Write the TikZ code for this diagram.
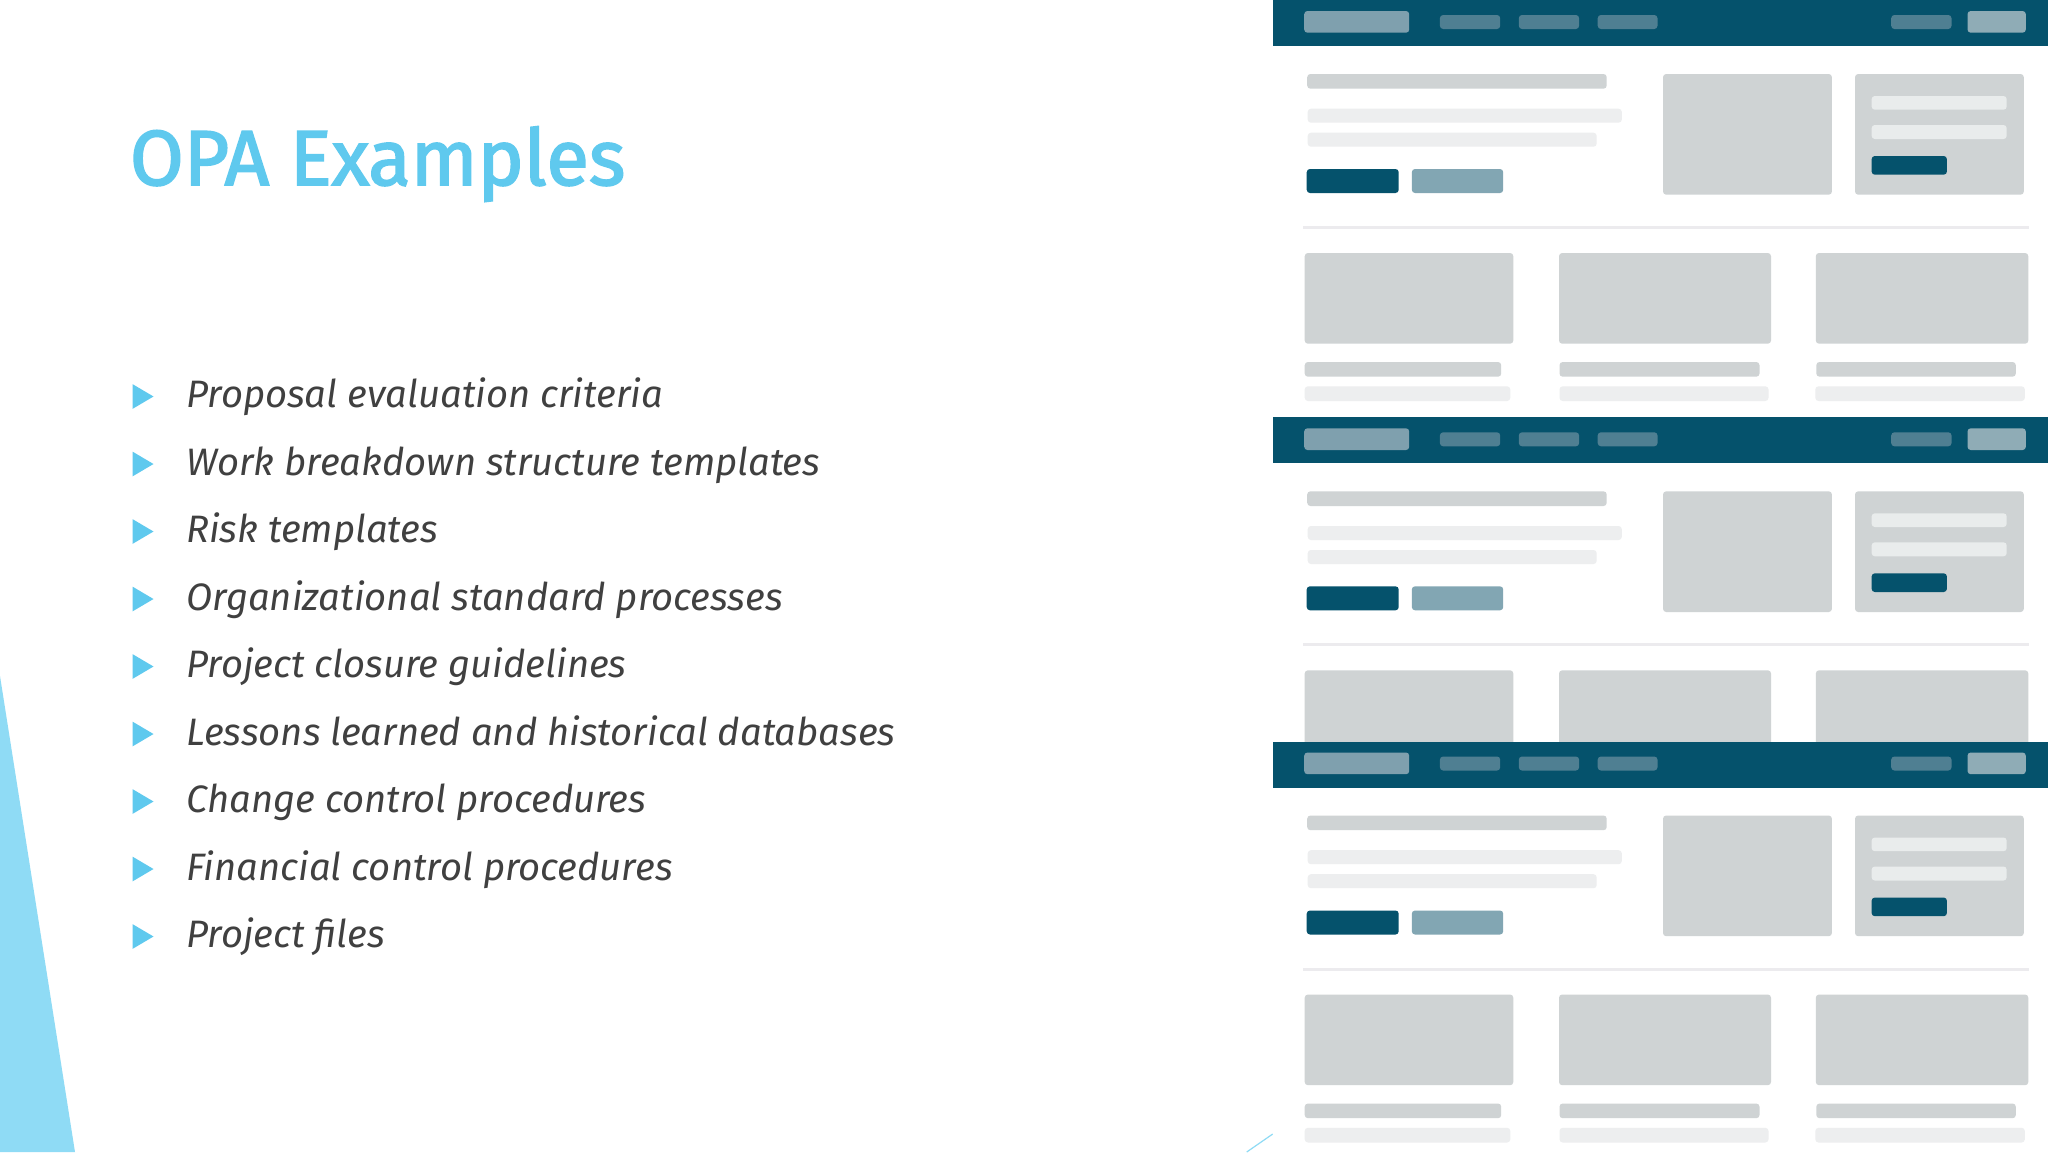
\documentclass[tikz,border=0pt]{standalone}
\usepackage{fontspec}
\setmainfont{Fira Sans}
\newfontfamily\titlefont[FakeBold=2.2]{Fira Sans}
\definecolor{skyblue}{HTML}{5FC9EE}
\definecolor{wedgeblue}{HTML}{8FDBF5}
\definecolor{bodytext}{HTML}{404040}
\definecolor{barteal}{HTML}{05526C}
\definecolor{logoteal}{HTML}{7FA0AE}
\definecolor{navteal}{HTML}{4F7F92}
\definecolor{signteal}{HTML}{8FACB6}
\definecolor{softteal}{HTML}{82A6B3}
\definecolor{boxgrey}{HTML}{CFD3D4}
\definecolor{palegrey}{HTML}{EDEEEF}
\definecolor{innergrey}{HTML}{E9ECEC}
\definecolor{rulegrey}{HTML}{ECEBEE}
\tikzset{
  x=0.5pt,y=-0.5pt,
  mock/.style={rounded corners=1.6pt},
  titletext/.style={anchor=base west,inner sep=0pt,text=skyblue,font=\titlefont\fontsize{39}{47}\selectfont},
  itemtext/.style={anchor=base west,inner sep=0pt,text=bodytext,font=\fontsize{19.1}{23}\selectfont\itshape},
  bullettri/.style={fill=skyblue},
}
\newcommand{\mockpanel}[1]{%
\begin{scope}[shift={(0,#1)}]
  \fill[white] (1273,46) rectangle (2048,420);
  \fill[barteal] (1273,0) rectangle (2048,46);
  \fill[logoteal,mock] (1304.2,11) rectangle (1409.2,32.7);
  \fill[navteal,mock] (1439.9,15) rectangle (1500.2,29);
  \fill[navteal,mock] (1518.8,15) rectangle (1579.1,29);
  \fill[navteal,mock] (1597.7,15) rectangle (1657.5,29);
  \fill[navteal,mock] (1891.2,15) rectangle (1951.5,29);
  \fill[signteal,mock] (1967.5,11) rectangle (2025.8,32.7);
  \fill[boxgrey,mock] (1307.2,74) rectangle (1606.7,88.7);
  \fill[palegrey,mock] (1307.7,108.7) rectangle (1621.8,122.7);
  \fill[palegrey,mock] (1307.7,132.7) rectangle (1596.7,146.7);
  \fill[barteal,mock] (1306.7,169) rectangle (1398.7,193);
  \fill[softteal,mock] (1411.8,169) rectangle (1503.2,193);
  \fill[boxgrey,mock] (1663,74) rectangle (1831.9,194.7);
  \fill[boxgrey,mock] (1855,74) rectangle (2023.8,194.7);
  \fill[innergrey,mock] (1871.6,96) rectangle (2006.7,109.7);
  \fill[innergrey,mock] (1871.6,125) rectangle (2006.7,139);
  \fill[barteal,mock] (1871.6,156) rectangle (1946.9,174.7);
  \fill[rulegrey] (1302.7,226) rectangle (2029.3,229);
  \fill[boxgrey,mock] (1304.7,253) rectangle (1513.3,343.7);
  \fill[boxgrey,mock] (1559,253) rectangle (1771,343.7);
  \fill[boxgrey,mock] (1815.8,253) rectangle (2028.3,343.7);
  \fill[boxgrey,mock] (1304.7,362) rectangle (1501.2,376.7);
  \fill[boxgrey,mock] (1559.5,362) rectangle (1759.5,376.7);
  \fill[boxgrey,mock] (1816.3,362) rectangle (2015.8,376.7);
  \fill[palegrey,mock] (1304.7,386.3) rectangle (1510.3,401);
  \fill[palegrey,mock] (1559.5,386.3) rectangle (1768.5,401);
  \fill[palegrey,mock] (1815.3,386.3) rectangle (2024.8,401);
\end{scope}}
\begin{document}
\begin{tikzpicture}
\useasboundingbox (0,0) rectangle (2048,1152);
\clip (0,0) rectangle (2048,1152);
\fill[white] (0,0) rectangle (2048,1152);
\fill[wedgeblue] (0,676) -- (75,1152) -- (0,1152) -- cycle;
\coordinate (tickA) at (1272.7,1134);
\coordinate (tickB) at (1246.7,1152);
\draw[wedgeblue,line width=0.6pt] (tickA) -- (tickB);
\node[titletext] (title) at (129.5,185) {OPA Examples};
\foreach \i/\t in {0/Proposal evaluation criteria,
  1/Work breakdown structure templates,
  2/Risk templates,
  3/Organizational standard processes,
  4/Project closure guidelines,
  5/Lessons learned and historical databases,
  6/Change control procedures,
  7/Financial control procedures,
  8/Project files}{
  \pgfmathsetmacro{\cy}{396.5+67.5*\i}
  \fill[bullettri] (132.5,\cy-12.4) -- (153.5,\cy) -- (132.5,\cy+12.4) -- cycle;
  \node[itemtext] (item\i) at (186,\cy+11) {\t};
}
\mockpanel{0}
\mockpanel{417.3}
\mockpanel{741.5}
\end{tikzpicture}
\end{document}
